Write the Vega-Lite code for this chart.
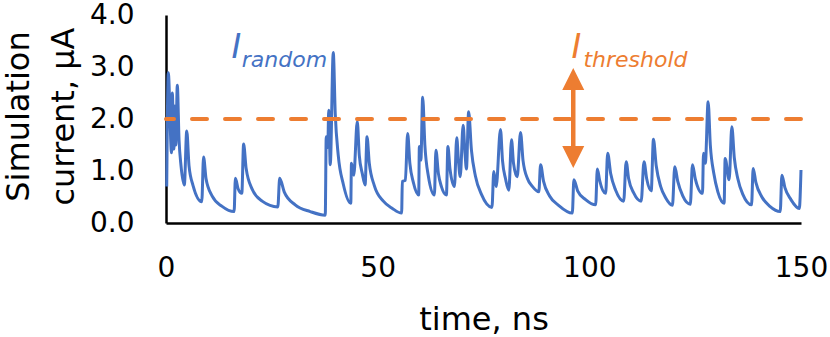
{
  "$schema": "https://vega.github.io/schema/vega-lite/v6.json",
  "width": 635,
  "height": 208,
  "autosize": {"type": "none"},
  "padding": {"left": 166, "top": 15, "right": 29, "bottom": 114},
  "background": "white",
  "config": {
    "view": {"stroke": null},
    "axis": {
      "domainColor": "black",
      "domainWidth": 2.5,
      "ticks": false,
      "grid": false,
      "labelFont": "DejaVu Sans",
      "labelFontSize": 28,
      "labelColor": "black",
      "titleFont": "DejaVu Sans",
      "titleFontSize": 32,
      "titleFontWeight": "normal",
      "titleColor": "black"
    }
  },
  "datasets": {
    "signal": [
      {"t":0.17,"i":0.70},{"t":0.54,"i":2.89},{"t":1.30,"i":1.35},{"t":1.49,"i":2.50},{"t":1.85,"i":1.42},{"t":2.08,"i":2.25},{"t":2.32,"i":1.50},{"t":2.67,"i":2.65},{"t":3.08,"i":1.60},{"t":3.55,"i":1.10},{"t":4.33,"i":0.73},{"t":4.90,"i":1.77},{"t":5.44,"i":1.10},{"t":6.39,"i":0.72},{"t":8.45,"i":0.41},{"t":8.87,"i":1.27},{"t":9.46,"i":0.85},{"t":10.88,"i":0.52},{"t":13.25,"i":0.32},{"t":16.09,"i":0.22},{"t":16.39,"i":0.86},{"t":17.03,"i":0.66},{"t":17.91,"i":0.57},{"t":18.33,"i":1.52},{"t":18.93,"i":1.05},{"t":20.35,"i":0.65},{"t":22.71,"i":0.42},{"t":26.42,"i":0.31},{"t":26.85,"i":0.86},{"t":27.92,"i":0.60},{"t":30.52,"i":0.35},{"t":34.07,"i":0.22},{"t":37.62,"i":0.15},{"t":37.85,"i":1.66},{"t":38.21,"i":1.45},{"t":38.44,"i":2.17},{"t":38.80,"i":1.12},{"t":39.51,"i":3.28},{"t":39.98,"i":2.10},{"t":40.69,"i":1.30},{"t":41.87,"i":0.75},{"t":43.65,"i":0.38},{"t":43.81,"i":1.15},{"t":44.36,"i":0.92},{"t":45.18,"i":1.95},{"t":45.66,"i":1.30},{"t":46.37,"i":0.95},{"t":47.03,"i":0.73},{"t":47.48,"i":1.66},{"t":48.02,"i":1.15},{"t":49.21,"i":0.72},{"t":51.34,"i":0.42},{"t":53.47,"i":0.28},{"t":55.66,"i":0.19},{"t":55.83,"i":0.80},{"t":56.54,"i":0.82},{"t":57.08,"i":1.72},{"t":57.60,"i":1.15},{"t":58.43,"i":0.78},{"t":59.69,"i":0.54},{"t":59.85,"i":1.47},{"t":60.21,"i":1.21},{"t":60.63,"i":2.42},{"t":61.15,"i":1.50},{"t":61.98,"i":0.90},{"t":63.40,"i":0.54},{"t":63.76,"i":1.40},{"t":64.35,"i":0.95},{"t":65.06,"i":0.70},{"t":66.24,"i":0.54},{"t":66.59,"i":1.47},{"t":67.07,"i":1.05},{"t":68.13,"i":0.70},{"t":68.68,"i":1.64},{"t":69.08,"i":1.20},{"t":69.50,"i":0.89},{"t":70.19,"i":1.88},{"t":70.62,"i":1.35},{"t":70.97,"i":1.04},{"t":71.49,"i":2.14},{"t":72.15,"i":1.40},{"t":73.10,"i":0.90},{"t":74.52,"i":0.55},{"t":77.00,"i":0.30},{"t":77.43,"i":0.99},{"t":78.00,"i":0.70},{"t":79.01,"i":1.80},{"t":79.49,"i":1.20},{"t":80.20,"i":0.85},{"t":80.98,"i":0.63},{"t":81.62,"i":1.60},{"t":82.09,"i":1.15},{"t":82.96,"i":0.89},{"t":83.75,"i":1.74},{"t":84.34,"i":1.20},{"t":85.40,"i":0.85},{"t":86.58,"i":0.70},{"t":88.07,"i":0.60},{"t":88.48,"i":1.12},{"t":89.19,"i":0.80},{"t":90.61,"i":0.52},{"t":92.73,"i":0.34},{"t":95.98,"i":0.19},{"t":96.35,"i":0.83},{"t":97.23,"i":0.62},{"t":99.12,"i":0.45},{"t":101.49,"i":0.35},{"t":101.89,"i":1.04},{"t":102.43,"i":0.82},{"t":103.85,"i":0.57},{"t":104.33,"i":1.34},{"t":105.04,"i":0.95},{"t":106.22,"i":0.63},{"t":108.11,"i":0.42},{"t":108.70,"i":1.18},{"t":109.29,"i":0.85},{"t":110.48,"i":0.58},{"t":112.25,"i":0.42},{"t":112.91,"i":1.18},{"t":113.55,"i":0.85},{"t":114.62,"i":0.62},{"t":115.14,"i":1.61},{"t":115.80,"i":1.10},{"t":116.86,"i":0.70},{"t":118.05,"i":0.48},{"t":119.63,"i":0.34},{"t":120.18,"i":1.08},{"t":120.89,"i":0.80},{"t":122.07,"i":0.52},{"t":123.85,"i":0.36},{"t":124.37,"i":1.12},{"t":125.03,"i":0.85},{"t":126.73,"i":0.57},{"t":126.97,"i":1.34},{"t":127.40,"i":1.15},{"t":128.06,"i":2.33},{"t":128.58,"i":1.50},{"t":129.41,"i":0.95},{"t":130.36,"i":0.60},{"t":131.84,"i":0.38},{"t":132.08,"i":1.24},{"t":133.03,"i":0.83},{"t":133.66,"i":1.85},{"t":134.25,"i":1.25},{"t":135.08,"i":0.85},{"t":136.26,"i":0.55},{"t":138.32,"i":0.35},{"t":138.70,"i":1.05},{"t":139.34,"i":0.78},{"t":140.76,"i":0.50},{"t":142.65,"i":0.32},{"t":145.09,"i":0.22},{"t":145.49,"i":0.92},{"t":146.20,"i":0.68},{"t":147.62,"i":0.45},{"t":149.60,"i":0.28},{"t":150.00,"i":1.02}
    ],
    "thr": [{"level": 2}],
    "bigI": [
      {"x": 15.5, "y": 3.17, "s": "random", "text": "I"},
      {"x": 95.8, "y": 3.17, "s": "threshold", "text": "I"}
    ],
    "subs": [
      {"x": 17.9, "y": 3.0, "s": "random", "text": "random"},
      {"x": 98.6, "y": 3.0, "s": "threshold", "text": "threshold"}
    ],
    "arrow": [{"x": 96.2, "y1": 1.45, "y2": 2.6, "ytop": 2.77, "ybot": 1.27}]
  },
  "layer": [
    {
      "data": {"name": "signal"},
      "mark": {"type": "line", "color": "#4472C4", "strokeWidth": 3, "strokeJoin": "round", "interpolate": "monotone"},
      "encoding": {
        "x": {"field": "t", "type": "quantitative", "scale": {"domain": [0, 150], "nice": false},
              "axis": {"values": [0, 50, 100, 150], "title": "time, ns", "labelPadding": 31, "titleBaseline": "alphabetic", "titleY": 106, "labelFlush": false}},
        "y": {"field": "i", "type": "quantitative", "scale": {"domain": [0, 4], "nice": false},
              "axis": {"values": [0, 1, 2, 3, 4], "format": ".1f", "labelPadding": 32,
                       "title": ["Simulation", "current, µA"], "titleLineHeight": 45, "titleBaseline": "alphabetic",
                       "titleX": -138, "titleY": 101, "titleAlign": "center", "titleAngle": -90}}
      }
    },
    {
      "data": {"name": "thr"},
      "mark": {"type": "rule", "color": "#ED7D31", "strokeWidth": 4, "strokeDash": [15, 18], "strokeCap": "round"},
      "encoding": {"y": {"field": "level", "type": "quantitative"}}
    },
    {
      "data": {"name": "arrow"},
      "mark": {"type": "rule", "color": "#ED7D31", "strokeWidth": 4.5},
      "encoding": {
        "x": {"field": "x", "type": "quantitative"},
        "y": {"field": "y1", "type": "quantitative"},
        "y2": {"field": "y2"}
      }
    },
    {
      "data": {"name": "arrow"},
      "mark": {"type": "point", "shape": "M0,-1L1,1L-1,1Z", "filled": true, "opacity": 1, "size": 484, "color": "#ED7D31", "strokeWidth": 0},
      "encoding": {
        "x": {"field": "x", "type": "quantitative"},
        "y": {"field": "ytop", "type": "quantitative"}
      }
    },
    {
      "data": {"name": "arrow"},
      "mark": {"type": "point", "shape": "M-1,-1L1,-1L0,1Z", "filled": true, "opacity": 1, "size": 484, "color": "#ED7D31", "strokeWidth": 0},
      "encoding": {
        "x": {"field": "x", "type": "quantitative"},
        "y": {"field": "ybot", "type": "quantitative"}
      }
    },
    {
      "data": {"name": "bigI"},
      "mark": {"type": "text", "font": "DejaVu Sans", "fontStyle": "italic", "fontSize": 33, "align": "left", "baseline": "alphabetic"},
      "encoding": {
        "x": {"field": "x", "type": "quantitative"},
        "y": {"field": "y", "type": "quantitative"},
        "text": {"field": "text"},
        "color": {"field": "s", "type": "nominal", "scale": {"domain": ["random", "threshold"], "range": ["#4472C4", "#ED7D31"]}, "legend": null}
      }
    },
    {
      "data": {"name": "subs"},
      "mark": {"type": "text", "font": "DejaVu Sans", "fontStyle": "italic", "fontSize": 22, "align": "left", "baseline": "alphabetic"},
      "encoding": {
        "x": {"field": "x", "type": "quantitative"},
        "y": {"field": "y", "type": "quantitative"},
        "text": {"field": "text"},
        "color": {"field": "s", "type": "nominal", "scale": {"domain": ["random", "threshold"], "range": ["#4472C4", "#ED7D31"]}, "legend": null}
      }
    }
  ]
}
